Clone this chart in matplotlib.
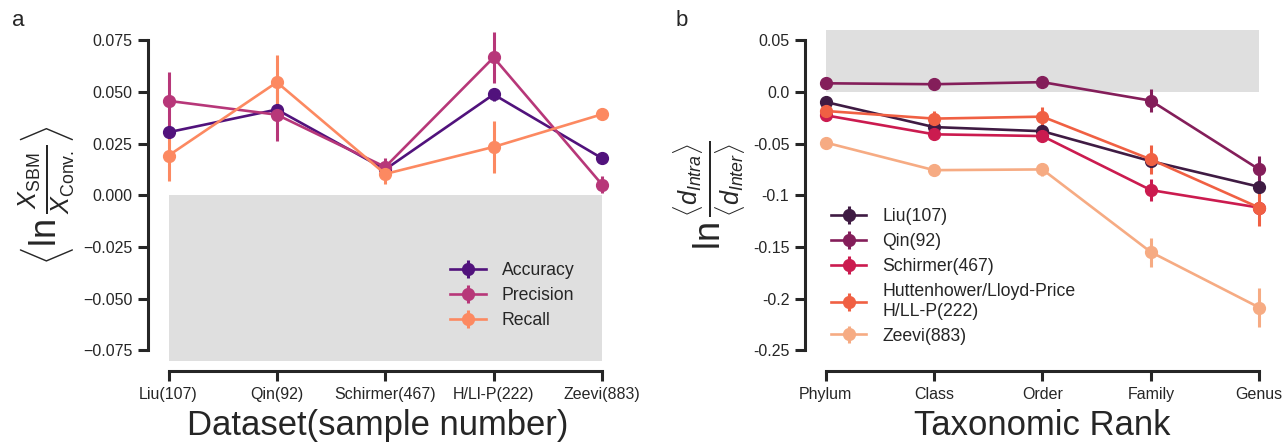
import matplotlib
matplotlib.use("Agg")
import matplotlib.pyplot as plt
import seaborn as sns
import numpy as np

plt.rcParams['font.family'] = ['Liberation Sans', 'DejaVu Sans']
plt.rcParams['mathtext.fontset'] = 'custom'
plt.rcParams['mathtext.rm'] = 'Liberation Sans'
plt.rcParams['mathtext.it'] = 'Liberation Sans:italic'
plt.rcParams['mathtext.bf'] = 'Liberation Sans:bold'

# ---------------- Panel a data ----------------
datasets = ["Liu(107)", "Qin(92)", "Schirmer(467)", "H/Ll-P(222)", "Zeevi(883)"]
metrics = ["Accuracy", "Precision", "Recall"]
accuracy = [0.0305, 0.0415, 0.0125, 0.0488, 0.0179]
accuracy_err = [0.002, 0.002, 0.002, 0.003, 0.0012]
precision = [0.0457, 0.0390, 0.0137, 0.0667, 0.0052]
precision_err = [0.014, 0.0125, 0.0045, 0.0125, 0.004]
recall = [0.0192, 0.0547, 0.0103, 0.0234, 0.0392]
recall_err = [0.0125, 0.013, 0.005, 0.0127, 0.003]

# ---------------- Panel b data ----------------
ranks = ["Phylum", "Class", "Order", "Family", "Genus"]
cohorts = ["Liu(107)", "Qin(92)", "Schirmer(467)",
           "Huttenhower/Lloyd-Price\nH/LL-P(222)", "Zeevi(883)"]
liu = [-0.0097, -0.034, -0.038, -0.067, -0.0918]
liu_err = [0.002, 0.002, 0.002, 0.003, 0.003]
qin = [0.0084, 0.0075, 0.0095, -0.0084, -0.075]
qin_err = [0.002, 0.003, 0.003, 0.011, 0.013]
schirmer = [-0.0226, -0.041, -0.0427, -0.095, -0.112]
schirmer_err = [0.003, 0.005, 0.005, 0.011, 0.004]
hllp = [-0.0184, -0.0258, -0.0239, -0.0653, -0.112]
hllp_err = [0.003, 0.007, 0.009, 0.014, 0.018]
zeevi = [-0.049, -0.0757, -0.075, -0.155, -0.2087]
zeevi_err = [0.002, 0.006, 0.006, 0.014, 0.019]

yticks_b = [0.05, 0.0, -0.05, -0.1, -0.15, -0.2, -0.25]
yticklabels_b = ["0.05", "0.0", "-0.05", "-0.1", "-0.15", "-0.2", "-0.25"]

W, H = 1285, 443
fig = plt.figure(figsize=(W / 100, H / 100), dpi=100)

dark = "#262626"
grey = "#dfdfdf"

def px_axes(left, right, top, bottom):
    return fig.add_axes([left / W, (H - bottom) / H, (right - left) / W, (bottom - top) / H])

def style(ax, xb, yb):
    for s in ["top", "right"]:
        ax.spines[s].set_visible(False)
    ax.spines["left"].set_position(("outward", 10))
    ax.spines["bottom"].set_position(("outward", 7.5))
    ax.spines["left"].set_bounds(*yb)
    ax.spines["bottom"].set_bounds(*xb)
    for s in ["left", "bottom"]:
        ax.spines[s].set_linewidth(2.2)
        ax.spines[s].set_color(dark)
    ax.tick_params(axis="both", length=7.5, width=2.2, color=dark, labelcolor=dark,
                   labelsize=11.5, pad=4)
    ax.tick_params(axis="x", pad=4)

# ---------------- Panel a ----------------
axA = px_axes(162, 608.5, 30, 360.5)
x = np.arange(len(datasets))
axA.fill_between([0, len(datasets) - 1], -0.08, 0.0, color=grey, lw=0, zorder=0)
pal_a = sns.color_palette("magma", 3)
for vals, errs, lab, c in zip([accuracy, precision, recall],
                              [accuracy_err, precision_err, recall_err],
                              metrics, pal_a):
    axA.errorbar(x, vals, yerr=errs, color=c, marker="o", ms=8.5, lw=1.9,
                 elinewidth=2.2, capsize=0, label=lab, clip_on=False)
axA.set_xlim(-0.06, len(datasets) - 1 + 0.06)
axA.set_ylim(-0.08, 0.08)
axA.set_yticks([-0.075, -0.05, -0.025, 0, 0.025, 0.05, 0.075])
axA.set_xticks(x)
axA.set_xticklabels(datasets)
style(axA, (0, len(datasets) - 1), (-0.075, 0.075))
axA.set_xlabel("Dataset(sample number)", fontsize=24.9, color=dark, labelpad=5)
axA.xaxis.label.set_x(0.483)
axA.set_ylabel(r"$\left\langle \ln\frac{X_{\mathrm{SBM}}}{X_{\mathrm{Conv.}}} \right\rangle$",
               fontsize=26, color=dark, labelpad=4)
leg = axA.legend(loc="lower right", bbox_to_anchor=(0.959, 0.047), frameon=False,
                 fontsize=12.7, handlelength=2.0, labelspacing=0.45, handletextpad=0.9)
for t in leg.get_texts():
    t.set_color(dark)

# ---------------- Panel b ----------------
axB = px_axes(819.2, 1265.7, 30, 360.5)
xb = np.arange(len(ranks))
axB.fill_between([0, len(ranks) - 1], 0.0, 0.06, color=grey, lw=0, zorder=0)
pal_b = sns.color_palette("rocket", 5)
for vals, errs, lab, c in zip([liu, qin, schirmer, hllp, zeevi],
                              [liu_err, qin_err, schirmer_err, hllp_err, zeevi_err],
                              cohorts, pal_b):
    axB.errorbar(xb, vals, yerr=errs, color=c, marker="o", ms=8.5, lw=1.9,
                 elinewidth=2.2, capsize=0, label=lab, clip_on=False)
axB.set_xlim(-0.06, len(ranks) - 1 + 0.06)
axB.set_ylim(-0.26, 0.06)
axB.set_yticks(yticks_b)
axB.set_yticklabels(yticklabels_b)
axB.set_xticks(xb)
axB.set_xticklabels(ranks)
style(axB, (0, len(ranks) - 1), (-0.25, 0.05))
axB.set_xlabel("Taxonomic Rank", fontsize=24.9, color=dark, labelpad=5)
axB.set_ylabel(r"$\ln\frac{\langle d_{Intra}\rangle}{\langle d_{Inter}\rangle}$",
               fontsize=26, color=dark, labelpad=4)
legb = axB.legend(loc="lower left", bbox_to_anchor=(-0.009, 0.0), frameon=False,
                  fontsize=12.7, handlelength=2.0, labelspacing=0.45, handletextpad=0.9)
for t in legb.get_texts():
    t.set_color(dark)

fig.text(12 / W, 1 - 20 / H, "a", fontsize=16, color=dark, va="center")
fig.text(676 / W, 1 - 20 / H, "b", fontsize=16, color=dark, va="center")

fig.savefig("out.png", dpi=100)
